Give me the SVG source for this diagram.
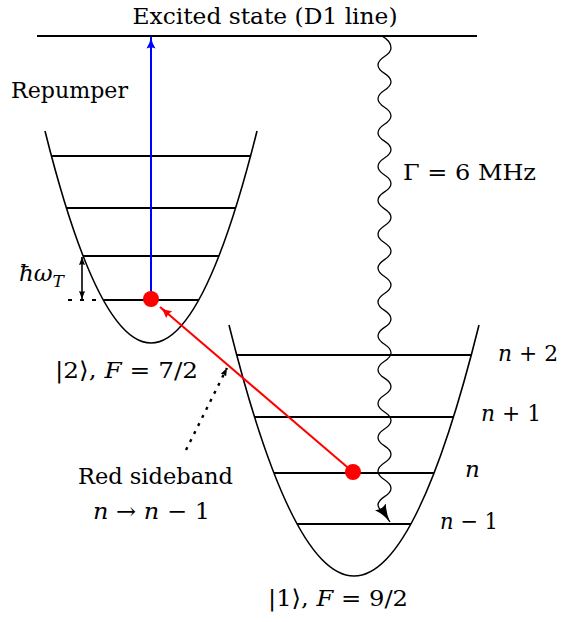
<svg xmlns="http://www.w3.org/2000/svg" width="562" height="622" viewBox="0 0 562 622">
<style>
text{font-family:"DejaVu Serif","Liberation Serif",serif;font-size:23px;fill:#000}
.it{font-style:italic}
.pot{fill:none;stroke:#000;stroke-width:1.6}
.lvl{stroke:#000;stroke-width:2.2}
</style>
<defs>
<marker id="hb" markerUnits="userSpaceOnUse" viewBox="0 0 12 10" refX="12" refY="5" markerWidth="12" markerHeight="10" orient="auto"><path d="M0,0.5 Q5,4 12,5 Q5,6 0,9.5 Q2,5 0,0.5 Z" fill="#0000ff"/></marker>
<marker id="hr" markerUnits="userSpaceOnUse" viewBox="0 0 12 10" refX="12" refY="5" markerWidth="12" markerHeight="10" orient="auto"><path d="M0,0.5 Q5,4 12,5 Q5,6 0,9.5 Q2,5 0,0.5 Z" fill="#ff0000"/></marker>
<marker id="hk" markerUnits="userSpaceOnUse" viewBox="0 0 18 14" refX="18" refY="7" markerWidth="18" markerHeight="14" orient="auto"><path d="M0,0.5 Q8,5.5 18,7 Q8,8.5 0,13.5 Q3.5,7 0,0.5 Z" fill="#000"/></marker>
<marker id="hs" markerUnits="userSpaceOnUse" viewBox="0 0 8 6" refX="8" refY="3" markerWidth="8" markerHeight="6" orient="auto-start-reverse"><path d="M0,0 L8,3 L0,6 Q1.5,3 0,0 Z" fill="#000"/></marker>
</defs>

<g id="excited-state">
<line x1="37" y1="36" x2="477" y2="36" stroke="#000" stroke-width="2.2"/>
<text x="265" y="24" text-anchor="middle" textLength="265" lengthAdjust="spacingAndGlyphs">Excited state (D1 line)</text>
</g>

<g id="state-2">
<path class="pot" d="M45,131 Q151,555 257,131"/>
<line class="lvl" x1="51.5" y1="156" x2="250.5" y2="156"/>
<line class="lvl" x1="66.4" y1="208" x2="235.6" y2="208"/>
<line class="lvl" x1="83" y1="256" x2="219" y2="256"/>
<line class="lvl" x1="103.3" y1="300" x2="198.7" y2="300"/>
<text x="55" y="378" textLength="143" lengthAdjust="spacingAndGlyphs">|2⟩, <tspan class="it">F</tspan> = 7/2</text>
</g>

<g id="state-1">
<path class="pot" d="M229,325 Q354,827 479,325"/>
<line class="lvl" x1="236.7" y1="355" x2="471.3" y2="355"/>
<line class="lvl" x1="254.5" y1="417" x2="453.5" y2="417"/>
<line class="lvl" x1="274" y1="473" x2="434" y2="473"/>
<line class="lvl" x1="297" y1="524" x2="411" y2="524"/>
<text x="268" y="606" textLength="140" lengthAdjust="spacingAndGlyphs">|1⟩, <tspan class="it">F</tspan> = 9/2</text>
<text x="498" y="361" textLength="60" lengthAdjust="spacingAndGlyphs"><tspan class="it">n</tspan> + 2</text>
<text x="481" y="421" textLength="60" lengthAdjust="spacingAndGlyphs"><tspan class="it">n</tspan> + 1</text>
<text x="465" y="477" class="it">n</text>
<text x="440" y="529" textLength="58" lengthAdjust="spacingAndGlyphs"><tspan class="it">n</tspan> − 1</text>
</g>

<g id="trap-frequency">
<line x1="68" y1="300" x2="104" y2="300" stroke="#000" stroke-width="2" stroke-dasharray="4 8"/>
<text x="19" y="281"><tspan class="it">ħω</tspan><tspan class="it" font-size="17" dy="6">T</tspan></text>
</g>

<g id="labels">
<text x="11" y="98" textLength="117" lengthAdjust="spacingAndGlyphs">Repumper</text>
<text x="403" y="180" textLength="133" lengthAdjust="spacingAndGlyphs">Γ = 6 MHz</text>
<text x="155.5" y="484" text-anchor="middle" textLength="155" lengthAdjust="spacingAndGlyphs">Red sideband</text>
<text x="151.5" y="519" text-anchor="middle" textLength="117" lengthAdjust="spacingAndGlyphs"><tspan class="it">n</tspan> → <tspan class="it">n</tspan> − 1</text>
</g>

<g id="connectors">
<line x1="151" y1="299" x2="151" y2="36.5" stroke="#0000ff" stroke-width="2" marker-end="url(#hb)"/>
<line x1="353" y1="472" x2="160" y2="307" stroke="#ff0000" stroke-width="2" marker-end="url(#hr)"/>
<line x1="82" y1="257" x2="82" y2="299" stroke="#000" stroke-width="1.6" marker-start="url(#hs)" marker-end="url(#hs)"/>
<line x1="186" y1="450" x2="227" y2="368" stroke="#000" stroke-width="2.4" stroke-dasharray="3 6" marker-end="url(#hs)"/>
<path fill="none" stroke="#000" stroke-width="1.3" marker-end="url(#hk)" d="M382,36 C387,39 391,42 391,48 C391,56.47 378,56.47 378,64.93 S391,73.4 391,81.86 S378,90.33 378,98.79 S391,107.26 391,115.72 S378,124.19 378,132.65 S391,141.12 391,149.58 S378,158.05 378,166.51 S391,174.98 391,183.44 S378,191.91 378,200.37 S391,208.84 391,217.3 S378,225.77 378,234.23 S391,242.7 391,251.16 S378,259.63 378,268.09 S391,276.56 391,285.02 S378,293.49 378,301.95 S391,310.42 391,318.88 S378,327.35 378,335.81 S391,344.28 391,352.74 S378,361.21 378,369.67 S391,378.14 391,386.6 S378,395.07 378,403.53 S391,412 391,420.46 S378,428.93 378,437.39 S391,445.86 391,454.32 S378,462.79 378,471.25 S391,479.72 391,488.18 S378,496.65 378,505.11 C378,510 383,511 390,522"/>
<circle cx="151" cy="299" r="8" fill="#ff0000"/>
<circle cx="353" cy="472" r="8" fill="#ff0000"/>
</g>
</svg>
